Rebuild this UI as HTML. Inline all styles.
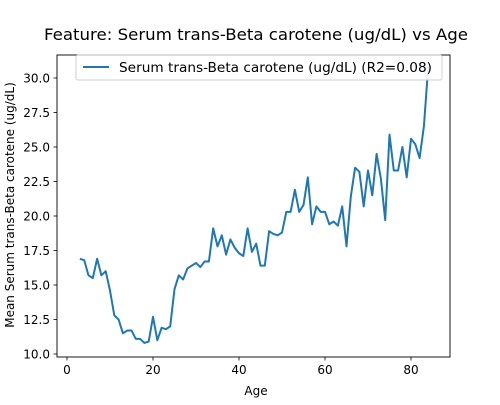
<!DOCTYPE html>
<html><head><meta charset="utf-8"><style>
body{margin:0;background:#fff}
svg text{font-family:"DejaVu Sans","Liberation Sans",sans-serif;fill:#000}
</style></head><body>
<svg id="chart" width="500" height="400" xmlns="http://www.w3.org/2000/svg">
<rect width="500" height="400" fill="#fff"/>
<text x="256" y="40" font-size="16" text-anchor="middle" textLength="424" lengthAdjust="spacingAndGlyphs">Feature: Serum trans-Beta carotene (ug/dL) vs Age</text>
<g id="axes"></g>
<polyline id="line" fill="none" stroke="#1f77b4" stroke-width="2" stroke-linejoin="round"/>
<rect x="57" y="55" width="393" height="302" fill="none" stroke="#000" stroke-width="0.9"/>
<g>
<rect x="76" y="55" width="366" height="25" rx="2" fill="#fff" stroke="#ccc" stroke-width="1" opacity="0.9"/>
<line x1="83" y1="67" x2="109" y2="67" stroke="#1f77b4" stroke-width="2"/>
<text x="119" y="72" font-size="13" textLength="313" lengthAdjust="spacingAndGlyphs">Serum trans-Beta carotene (ug/dL) (R2=0.08)</text>
</g>
<text x="256" y="395" font-size="12" text-anchor="middle">Age</text>
<text transform="translate(14,205) rotate(-90)" font-size="12" text-anchor="middle">Mean Serum trans-Beta carotene (ug/dL)</text>
</svg>
<script>
const ages=[];for(let a=3;a<=84;a++)ages.push(a);
const values=[16.9,16.8,15.7,15.5,16.9,15.7,16.0,14.6,12.8,12.5,11.5,11.7,11.7,11.1,11.1,10.8,10.9,12.7,11.0,11.9,11.8,12.0,14.7,15.7,15.4,16.2,16.4,16.6,16.3,16.7,16.7,19.1,17.8,18.6,17.2,18.3,17.7,17.3,17.1,19.1,17.4,18.0,16.4,16.4,18.9,18.7,18.6,18.8,20.3,20.3,21.9,20.3,20.8,22.8,19.4,20.7,20.3,20.3,19.4,19.6,19.3,20.7,17.8,21.4,23.5,23.2,20.7,23.3,21.5,24.5,22.7,19.7,25.9,23.3,23.3,25.0,22.8,25.6,25.2,24.2,26.5,30.8];
const xTicks=[0,20,40,60,80];
const yTicks=[10.0,12.5,15.0,17.5,20.0,22.5,25.0,27.5,30.0];
const X=v=>67+v*4.3;
const Y=v=>354-(v-10)*13.8;
const ns="http://www.w3.org/2000/svg";
const ax=document.getElementById('axes');
function mk(t,at){const e=document.createElementNS(ns,t);for(const k in at)e.setAttribute(k,at[k]);ax.appendChild(e);return e;}
xTicks.forEach(t=>{
 const l=mk('line',{x1:X(t),x2:X(t),y1:357,y2:360.5,stroke:'#000','stroke-width':0.8});
 
 
 const s=mk('text',{x:X(t),y:374,'font-size':12,'text-anchor':'middle'});s.textContent=t;
 
 
});
yTicks.forEach(t=>{
 const l=mk('line',{x1:53.5,x2:57,y1:Y(t),y2:Y(t),stroke:'#000','stroke-width':0.8});
 
 
 const s=mk('text',{x:50,y:Y(t)+4.5,'font-size':12,'text-anchor':'end'});s.textContent=t.toFixed(1);
 
 
});
document.getElementById('line').setAttribute('points',ages.map((a,i)=>X(a)+','+Y(values[i])).join(' '));
</script>
</body></html>
